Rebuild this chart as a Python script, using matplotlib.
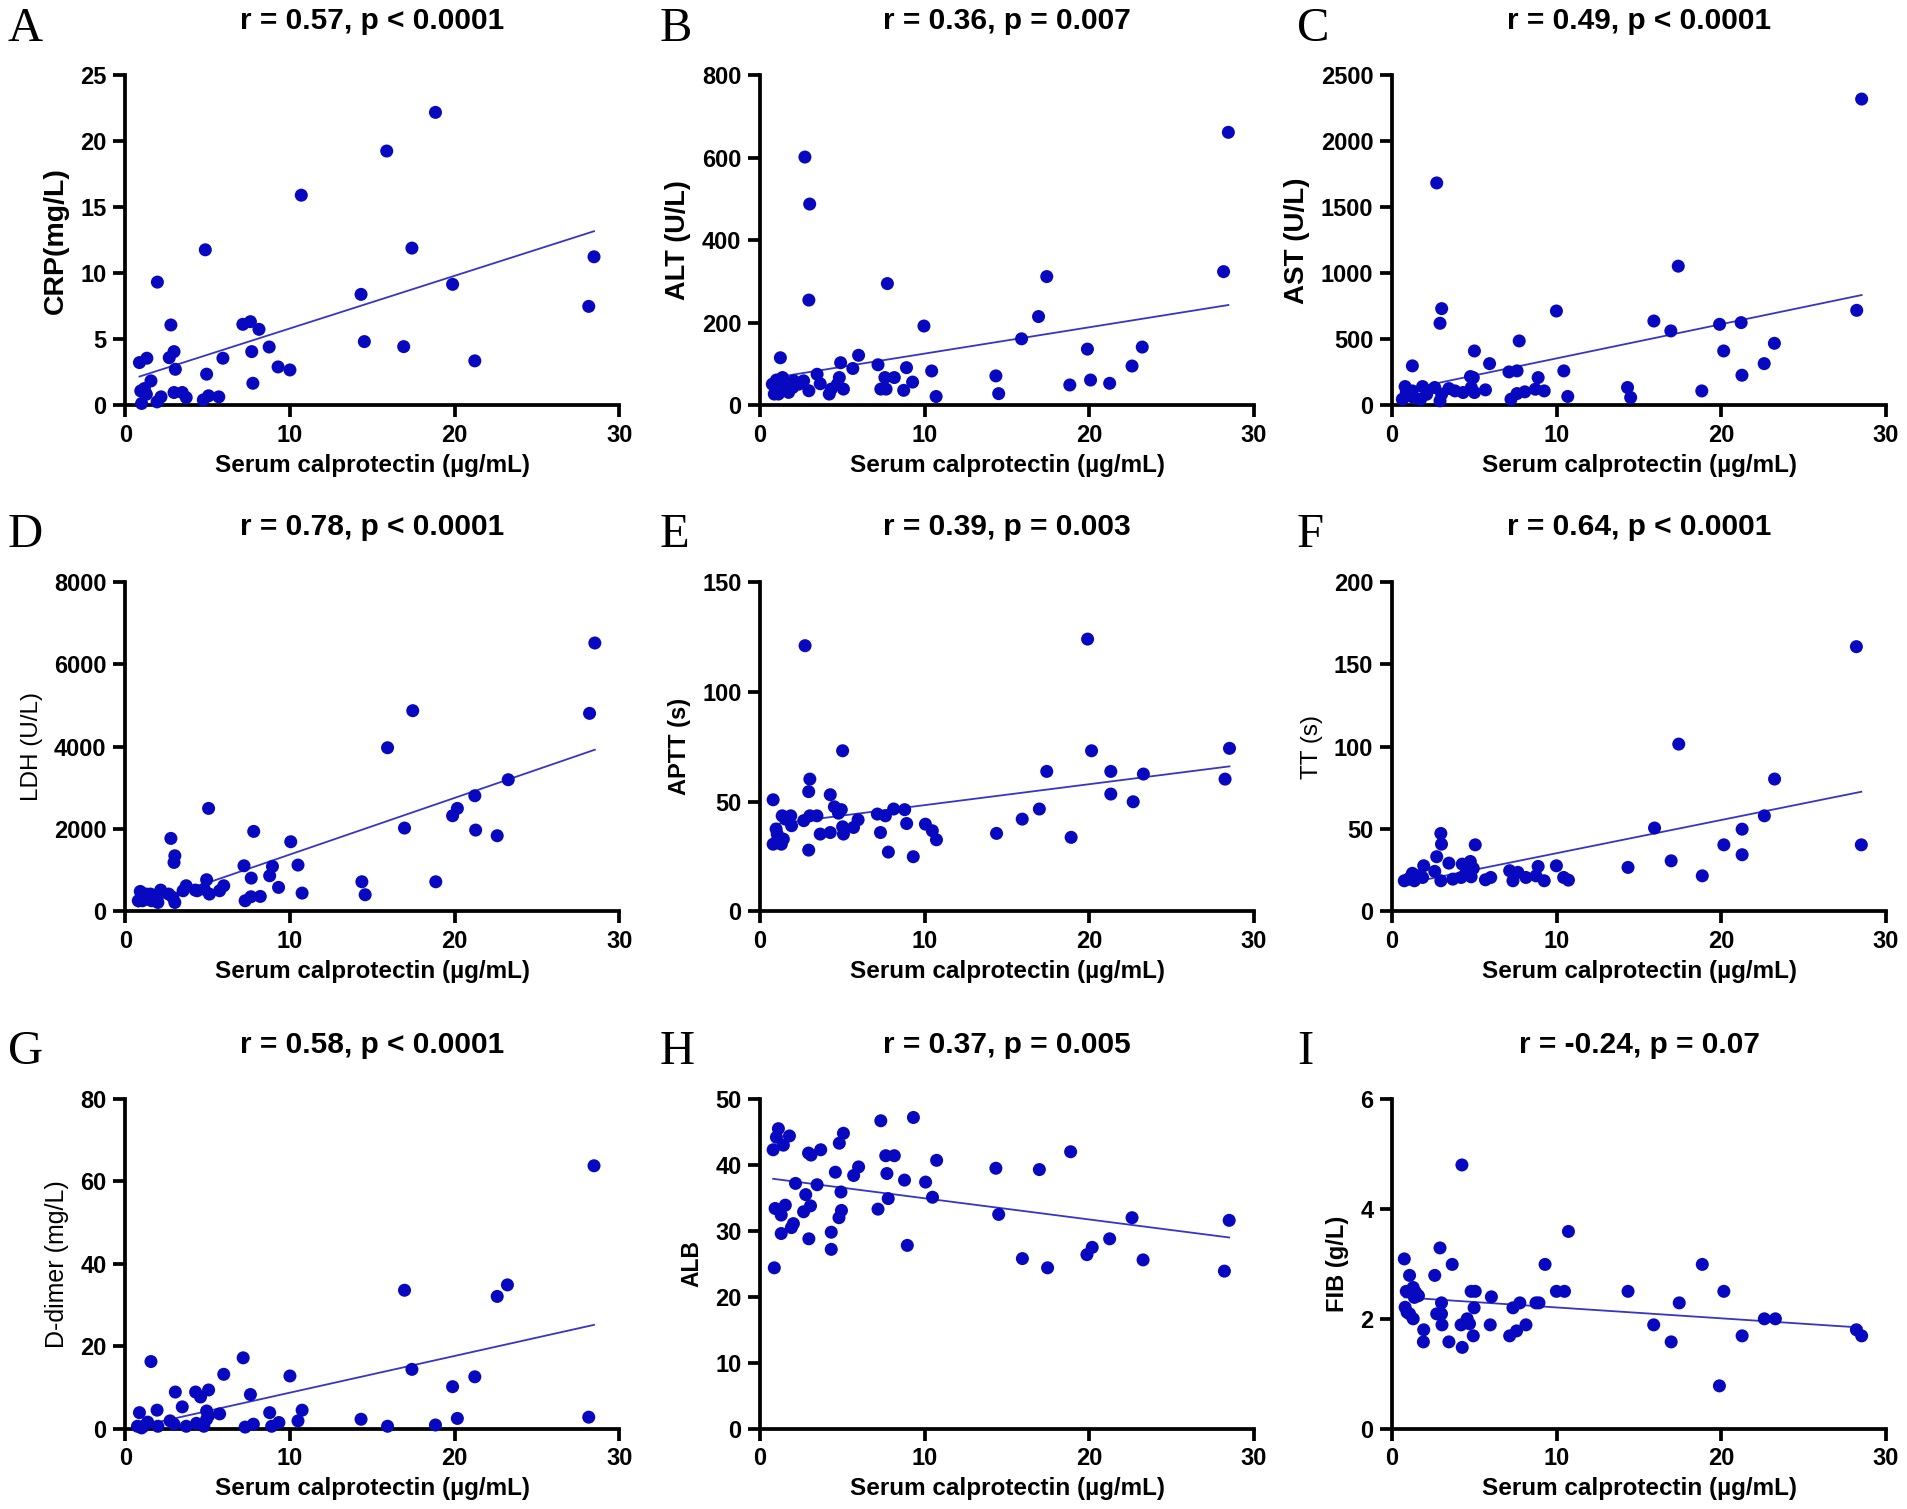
import matplotlib
matplotlib.use("Agg")
import matplotlib.pyplot as plt
import numpy as np

plt.rcParams["font.family"] = ["Liberation Sans", "DejaVu Sans"]

# Serum calprotectin (x) vs. lab values (y)
crp_x = [0.86, 1.31, 0.94, 1.16, 1.28, 0.99, 1.56, 1.95, 1.93, 2.17, 2.77, 2.67, 2.96, 3.04,
         2.96, 3.46, 3.70, 4.86, 4.94, 4.74, 5.06, 5.68, 5.93, 7.14, 7.60, 8.12, 7.68, 7.75,
         8.74, 9.28, 10.0, 10.69, 14.32, 14.52, 15.88, 16.91, 17.41, 18.84, 19.88, 21.23,
         28.15, 28.47]
crp_y = [3.23, 3.56, 1.08, 1.26, 0.83, 0.13, 1.84, 9.33, 0.25, 0.63, 6.08, 3.60, 4.06, 2.72,
         0.96, 0.96, 0.58, 11.78, 2.35, 0.40, 0.71, 0.63, 3.56, 6.13, 6.33, 5.75, 4.06, 1.66,
         4.41, 2.90, 2.67, 15.92, 8.40, 4.82, 19.27, 4.44, 11.91, 22.2, 9.16, 3.36, 7.49, 11.25]

alt_x = [2.72, 3.01, 2.96, 7.73, 9.95, 28.44, 28.15, 17.41, 16.91, 15.88, 14.32, 14.49, 19.88,
         20.07, 21.23, 18.81, 22.59, 23.21, 10.42, 10.69, 8.89, 9.26, 8.72, 8.15, 7.58, 7.16,
         7.33, 7.65, 5.98, 5.63, 4.89, 4.81, 5.06, 4.69, 4.32, 4.20, 3.46, 3.65, 2.64, 2.96,
         1.23, 1.36, 0.74, 0.86, 1.11, 1.48, 1.73, 2.05, 2.35, 0.99, 1.98]
alt_y = [602, 488, 255, 295, 192, 662, 324, 312, 215, 161, 71, 28, 136, 61, 53, 49, 95, 141,
         83, 21, 91, 56, 36, 67, 67, 98, 39, 39, 121, 89, 103, 67, 39, 51, 39, 27, 75, 52, 59,
         35, 115, 67, 51, 27, 27, 43, 31, 59, 51, 61, 43]

ast_x = [2.71, 3.01, 2.91, 28.52, 28.22, 17.38, 9.98, 15.90, 16.93, 19.89, 21.20, 20.14, 23.22,
         22.60, 21.25, 18.81, 14.30, 14.49, 10.67, 10.43, 8.87, 8.70, 9.24, 8.06, 7.72, 7.59,
         7.10, 7.59, 7.22, 5.92, 5.00, 5.67, 4.76, 4.93, 4.81, 5.00, 4.31, 3.82, 3.45, 3.01,
         2.91, 2.59, 1.23, 0.79, 0.62, 0.99, 1.23, 1.36, 1.85, 1.73, 2.10, 0.86]
ast_y = [1685, 732, 621, 2321, 719, 1054, 714, 638, 563, 613, 626, 411, 469, 315, 227, 108,
         134, 58, 66, 260, 209, 121, 108, 101, 487, 260, 252, 88, 45, 315, 411, 116, 217, 209,
         134, 96, 96, 108, 126, 83, 33, 134, 298, 141, 45, 71, 108, 53, 141, 45, 83, 96]

ldh_x = [28.52, 28.20, 17.46, 15.93, 23.26, 21.23, 20.17, 19.88, 16.96, 21.28, 22.59, 18.86,
         14.37, 14.57, 10.74, 10.49, 10.05, 9.31, 8.94, 8.77, 7.80, 7.21, 7.65, 7.28, 7.63,
         8.20, 5.98, 5.73, 5.06, 4.94, 5.11, 4.79, 4.37, 4.25, 3.70, 3.51, 3.01, 2.96, 2.77,
         3.01, 2.89, 2.64, 2.15, 1.90, 1.53, 1.28, 0.91, 0.79, 1.04, 1.41, 1.60, 1.98]
ldh_y = [6513, 4806, 4871, 3972, 3196, 2807, 2500, 2322, 2023, 1974, 1837, 720, 720, 405, 445,
         1125, 1691, 583, 1092, 866, 1942, 1108, 809, 259, 356, 364, 623, 502, 2500, 769, 421,
         542, 502, 518, 623, 502, 1351, 1189, 1772, 218, 340, 421, 518, 380, 421, 421, 485,
         259, 259, 299, 259, 218]

aptt_x = [2.73, 19.89, 5.01, 20.13, 28.51, 28.24, 17.41, 21.30, 23.28, 21.30, 22.66, 16.96,
          15.92, 14.36, 18.89, 3.02, 2.95, 0.79, 4.26, 4.51, 4.93, 4.76, 8.11, 8.78, 7.12,
          7.61, 5.95, 5.67, 5.01, 5.06, 4.26, 3.65, 3.45, 3.02, 2.65, 2.95, 7.31, 7.79, 9.30,
          8.90, 10.04, 10.46, 10.71, 1.91, 1.34, 1.86, 1.54, 0.97, 1.04, 0.79, 1.17, 1.41,
          1.29, 1.04]
aptt_y = [120.9, 123.9, 73.1, 73.1, 74.2, 60.2, 63.7, 63.7, 62.5, 53.4, 49.9, 46.6, 42.0,
          35.5, 33.7, 60.2, 54.5, 50.8, 53.1, 47.6, 46.3, 44.7, 46.6, 46.3, 44.3, 43.5, 41.7,
          38.2, 38.5, 35.2, 35.9, 35.2, 43.5, 43.5, 41.3, 27.9, 35.9, 27.0, 24.9, 40.0, 39.7,
          36.7, 32.6, 39.0, 43.5, 43.5, 42.0, 37.5, 35.2, 30.6, 31.4, 32.9, 30.6, 32.2]

tt_x = [28.20, 17.41, 23.23, 22.61, 15.94, 21.26, 20.15, 28.50, 21.26, 16.95, 14.33, 18.84,
        2.96, 3.00, 5.05, 2.71, 3.45, 4.75, 4.26, 1.92, 2.59, 4.93, 4.51, 4.19, 4.80, 9.98,
        8.87, 7.14, 7.64, 7.34, 8.13, 8.74, 9.24, 5.99, 5.67, 10.42, 10.71, 3.69, 2.96, 1.85,
        1.35, 1.23, 0.74, 0.99, 1.53, 1.11]
tt_y = [160.6, 101.5, 80.3, 58.0, 50.6, 49.9, 40.4, 40.4, 34.4, 30.7, 26.7, 21.6, 47.3, 40.8,
        40.4, 33.2, 29.3, 30.3, 28.7, 27.7, 24.3, 26.1, 23.7, 20.6, 21.0, 27.7, 27.3, 24.7,
        23.7, 18.6, 20.6, 21.6, 18.6, 20.6, 19.2, 20.6, 19.0, 19.6, 18.6, 20.6, 18.6, 23.1,
        18.6, 19.6, 21.6, 20.6]

ddimer_x = [28.47, 16.96, 23.21, 22.59, 17.41, 21.23, 19.88, 20.17, 28.15, 14.32, 15.93, 18.84,
            1.56, 7.16, 5.98, 10.0, 3.04, 4.27, 5.06, 4.57, 7.60, 3.46, 1.93, 0.86, 4.94, 5.73,
            8.77, 10.74, 10.49, 2.72, 2.96, 3.70, 4.32, 4.94, 5.06, 4.77, 1.36, 1.11, 0.74,
            0.99, 1.98, 7.28, 7.78, 8.89, 9.33]
ddimer_y = [63.8, 33.6, 34.9, 32.1, 14.4, 12.6, 10.2, 2.5, 2.8, 2.3, 0.6, 0.9, 16.3, 17.2, 13.2,
            12.8, 8.9, 8.9, 9.4, 7.7, 8.3, 5.3, 4.5, 3.9, 4.3, 3.6, 3.9, 4.5, 1.9, 1.9, 1.1, 0.6,
            1.3, 2.3, 3.2, 0.6, 1.6, 0.6, 0.6, 0.2, 0.6, 0.4, 1.1, 0.6, 1.5]

alb_x = [9.31, 7.33, 1.11, 0.99, 1.78, 5.06, 1.41, 4.81, 0.79, 2.94, 3.09, 3.68, 7.63, 8.15,
         18.86, 10.72, 14.32, 16.96, 5.98, 4.57, 5.68, 7.70, 8.77, 10.05, 2.15, 3.46, 4.91,
         2.77, 10.47, 7.78, 0.91, 1.53, 3.06, 7.16, 4.94, 1.28, 2.64, 4.79, 14.49, 22.59, 28.49,
         2.02, 1.90, 1.28, 4.32, 2.96, 21.23, 20.17, 19.85, 8.94, 4.32, 15.93, 23.26, 17.46,
         0.86, 28.20]
alb_y = [47.2, 46.7, 45.5, 44.2, 44.4, 44.8, 43.0, 43.3, 42.3, 41.8, 41.5, 42.3, 41.4, 41.4,
         42.0, 40.7, 39.5, 39.3, 39.7, 38.9, 38.4, 38.7, 37.7, 37.4, 37.2, 37.0, 35.9, 35.5,
         35.1, 34.9, 33.4, 33.9, 33.8, 33.3, 33.1, 32.4, 32.9, 32.0, 32.5, 32.0, 31.6, 31.1,
         30.5, 29.6, 29.8, 28.8, 28.8, 27.5, 26.4, 27.8, 27.2, 25.8, 25.6, 24.4, 24.4, 23.9]

fib_x = [4.24, 10.71, 2.91, 0.74, 3.65, 9.29, 18.84, 1.06, 2.59, 0.86, 1.28, 1.43, 1.60, 1.35,
         4.80, 5.05, 9.98, 10.47, 14.33, 20.15, 6.03, 3.00, 7.76, 8.74, 8.92, 17.44, 7.34,
         4.98, 0.79, 0.91, 1.06, 2.71, 3.00, 4.56, 1.28, 22.61, 23.28, 1.92, 3.03, 4.19, 4.70,
         5.96, 8.13, 15.89, 7.56, 7.14, 4.93, 21.26, 28.20, 28.52, 1.90, 3.45, 16.95, 4.26,
         19.88]
fib_y = [4.80, 3.59, 3.29, 3.09, 2.99, 2.99, 2.99, 2.79, 2.79, 2.50, 2.57, 2.48, 2.42, 2.39,
         2.50, 2.50, 2.50, 2.50, 2.50, 2.50, 2.40, 2.29, 2.29, 2.29, 2.29, 2.29, 2.20, 2.20,
         2.21, 2.12, 2.09, 2.09, 2.09, 2.00, 2.00, 2.00, 2.00, 1.80, 1.89, 1.89, 1.91, 1.89,
         1.89, 1.89, 1.78, 1.69, 1.69, 1.69, 1.80, 1.69, 1.58, 1.58, 1.58, 1.48, 0.78]

# regression line ends (y at the smallest and largest x), as drawn in the figure
fit_ends = {
    "A": (2.17, 13.19), "B": (66, 243), "C": (112, 835),
    "D": (117, 3924), "E": (39.6, 66.0), "F": (16.7, 72.6),
    "G": (0.5, 25.2), "H": (37.9, 29.0), "I": (2.39, 1.84),
}

titles = ["r = 0.57, p < 0.0001", "r = 0.36, p = 0.007", "r = 0.49, p < 0.0001",
          "r = 0.78, p < 0.0001", "r = 0.39, p = 0.003", "r = 0.64, p < 0.0001",
          "r = 0.58, p < 0.0001", "r = 0.37, p = 0.005", "r = -0.24, p = 0.07"]
ylabels = ["CRP(mg/L)", "ALT (U/L)", "AST (U/L)", "LDH (U/L)", "APTT (s)", "TT (s)",
           "D-dimer (mg/L)", "ALB", "FIB (g/L)"]
yticks = [[0, 5, 10, 15, 20, 25], [0, 200, 400, 600, 800], [0, 500, 1000, 1500, 2000, 2500],
          [0, 2000, 4000, 6000, 8000], [0, 50, 100, 150], [0, 50, 100, 150, 200],
          [0, 20, 40, 60, 80], [0, 10, 20, 30, 40, 50], [0, 2, 4, 6]]
letters = list("ABCDEFGHI")
panels = [(crp_x, crp_y), (alt_x, alt_y), (ast_x, ast_y), (ldh_x, ldh_y), (aptt_x, aptt_y),
          (tt_x, tt_y), (ddimer_x, ddimer_y), (alb_x, alb_y), (fib_x, fib_y)]
ylabel_style = [("bold", 20.5), ("bold", 19.5), ("bold", 20), ("normal", 17.5), ("bold", 17),
                ("normal", 17.5), ("normal", 18), ("bold", 16.5), ("bold", 17)]

DOT = "#0808c0"
LINE = "#3535c8"

fig = plt.figure(figsize=(19.07, 15.09), dpi=100)
lefts = [0.0657, 0.3986, 0.730]
bottoms = [0.7315, 0.396, 0.0532]
letter_x = [0.004, 0.346, 0.680]
W, H = 0.259, 0.2185

for i, (xs, ys) in enumerate(panels):
    row, col = divmod(i, 3)
    ax = fig.add_axes([lefts[col], bottoms[row], W, H])
    ax.scatter(xs, ys, s=88, color=DOT, edgecolors="none", zorder=3, clip_on=False)
    x0, x1 = min(xs), max(xs)
    ax.plot([x0, x1], fit_ends[letters[i]], color=LINE, lw=1.3, zorder=2)

    ax.set_xlim(0, 30)
    ax.set_ylim(0, yticks[i][-1])
    ax.set_xticks([0, 10, 20, 30])
    ax.set_yticks(yticks[i])
    for side in ("top", "right"):
        ax.spines[side].set_visible(False)
    for side in ("left", "bottom"):
        ax.spines[side].set_linewidth(2.7)
    ax.tick_params(width=2.7, length=8.5, labelsize=17, pad=5)
    for lab in ax.get_xticklabels() + ax.get_yticklabels():
        lab.set_fontweight("bold")

    ax.set_xlabel("Serum calprotectin (\u00b5g/mL)", fontsize=17.5, fontweight="bold", labelpad=5)
    weight, size = ylabel_style[i]
    ax.set_ylabel(ylabels[i], fontsize=size, fontweight=weight, labelpad=8)

    ax.text(0.5, 1.165, titles[i], transform=ax.transAxes, ha="center", va="center",
            fontsize=21.5, fontweight="bold")
    fig.text(letter_x[col], bottoms[row] + H + 0.031, letters[i], ha="left", va="center",
             fontsize=35, family="Liberation Serif")

fig.savefig("out.png", dpi=100, facecolor="white")
